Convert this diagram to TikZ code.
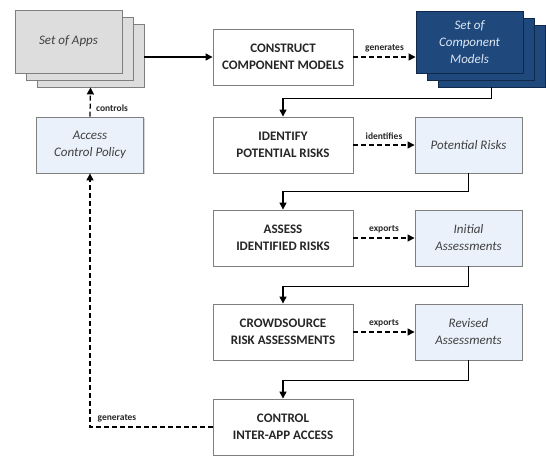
\documentclass[tikz,border=0pt]{standalone}
\usepackage{fontspec}
\setmainfont{Carlito}
\usetikzlibrary{arrows.meta,shadows}

\definecolor{boxline}{HTML}{7F7F7F}
\definecolor{paleblue}{HTML}{EAF1FB}
\definecolor{appgray}{HTML}{DDDDDD}
\definecolor{navy}{HTML}{1F497D}
\definecolor{navyline}{HTML}{10284A}
\definecolor{navytext}{HTML}{DCE6F2}
\definecolor{textdark}{HTML}{262626}
\definecolor{textgray}{HTML}{404040}

\begin{document}
\begin{tikzpicture}[x=1pt,y=-1pt,
    process/.style={draw=boxline,fill=white,line width=0.9pt,minimum width=140pt,minimum height=56pt,
        align=center,text=textdark,font=\bfseries\fontsize{13}{17}\selectfont,
        drop shadow={shadow xshift=1.2pt,shadow yshift=-1.2pt,opacity=0.35}},
    artifact/.style={draw=boxline,fill=paleblue,line width=0.9pt,minimum width=107pt,minimum height=56pt,
        align=center,text=textgray,font=\itshape\fontsize{13}{17}\selectfont,
        drop shadow={shadow xshift=1.2pt,shadow yshift=-1.2pt,opacity=0.35}},
    appbox/.style={artifact,fill=appgray,minimum height=63pt},
    modelbox/.style={artifact,fill=navy,draw=navyline,text=navytext,minimum height=62pt},
    flow/.style={-{Triangle[length=7pt,width=7pt]},line width=1.3pt,draw=black},
    dflow/.style={flow,dash pattern=on 5pt off 3pt},
    tag/.style={font=\bfseries\fontsize{9.5}{11}\selectfont,text=textdark}]
    \useasboundingbox (0,0) rectangle (546,456);

    % stack of apps
    \node[appbox] (apps3) at (90.5,55.5) {};
    \node[appbox] (apps2) at (79.5,48.5) {};
    \node[appbox] (apps) at (68.5,41.5) {Set of Apps};
    \node[artifact] (access) at (90,145) {Access\\Control Policy};

    % stack of component models
    \node[modelbox] (comps3) at (491.5,56) {};
    \node[modelbox] (comps2) at (480.5,49) {};
    \node[modelbox] (comps) at (469.5,42) {Set of\\Component\\Models};

    \node[process] (construct) at (283,57) {CONSTRUCT\\COMPONENT MODELS};
    \node[process] (identify) at (283,145) {IDENTIFY\\POTENTIAL RISKS};
    \node[artifact] (risks) at (468.5,145) {Potential Risks};
    \node[process] (assess) at (283,238) {ASSESS\\IDENTIFIED RISKS};
    \node[artifact] (initial) at (468.5,238) {Initial\\Assessments};
    \node[process] (crowd) at (283,332) {CROWDSOURCE\\RISK ASSESSMENTS};
    \node[artifact] (revised) at (468.5,332) {Revised\\Assessments};
    \node[process] (control) at (283,427) {CONTROL\\INTER-APP ACCESS};

    \draw[flow] (construct.west -| apps3.east) -- (construct.west);
    \draw[dflow] (construct.east) -- (construct.east -| comps.west) node[tag,midway,above=1pt] {generates};
    \draw[flow] (comps3.south) -- ++(0,11) -| (identify.north);

    \draw[dflow] (identify.east) -- (risks.west) node[tag,midway,above=1pt] {identifies};
    \draw[flow] (risks.south) -- ++(0,18) -| (assess.north);

    \draw[dflow] (assess.east) -- (initial.west) node[tag,midway,above=1pt] {exports};
    \draw[flow] (initial.south) -- ++(0,20) -| (crowd.north);

    \draw[dflow] (crowd.east) -- (revised.west) node[tag,midway,above=1pt] {exports};
    \draw[flow] (revised.south) -- ++(0,20) -| (control.north);

    \draw[dflow] (control.west) -| (access.south) node[tag,pos=0.39,above=1pt] {generates};
    \draw[dflow] (access.north) -- (apps3.south) node[tag,pos=0.3,right=2pt] {controls};
\end{tikzpicture}
\end{document}
